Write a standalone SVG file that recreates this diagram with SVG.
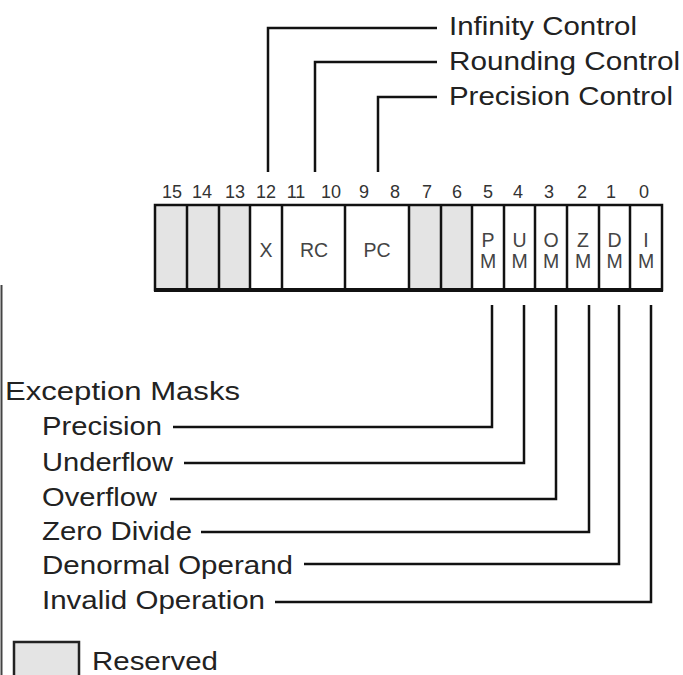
<svg xmlns="http://www.w3.org/2000/svg" width="683" height="675" viewBox="0 0 683 675">
<style>
.lbl{font-family:"Liberation Sans",Arial,sans-serif;font-size:26.5px;fill:#222}
.num{font-family:"Liberation Sans",Arial,sans-serif;font-size:18px;fill:#333;text-anchor:middle}
.cell{font-family:"Liberation Sans",Arial,sans-serif;font-size:19.5px;fill:#444;text-anchor:middle}
.res{fill:#e4e4e4}
.wht{fill:#fff}
.div{stroke:#111;stroke-width:2.5;fill:none}
.conn{stroke:#111;stroke-width:2.5;fill:none}
</style>
<rect width="683" height="675" fill="#fff"/>
<line x1="1.5" y1="285" x2="1.5" y2="675" stroke="#444" stroke-width="2"/>

<g id="register">
  <rect class="res" x="155" y="205" width="127" height="85"/>
  <rect class="wht" x="250" y="205" width="158" height="85"/>
  <rect class="res" x="408.5" y="205" width="63.4" height="85"/>
  <rect class="wht" x="472" y="205" width="190" height="85"/>
  <rect x="155" y="205" width="507" height="85" fill="none" stroke="#111" stroke-width="2.5"/>
  <line x1="154" y1="290" x2="663" y2="290" stroke="#111" stroke-width="4"/>
  <path class="div" d="M187 205V290M219 205V290M250 205V290M282 205V290M345 205V290M409 205V290M441 205V290M472 205V290M504 205V290M535 205V290M567 205V290M599 205V290M630 205V290"/>
</g>

<g id="bit-numbers">
  <text class="num" x="172" y="198">15</text>
  <text class="num" x="202" y="198">14</text>
  <text class="num" x="235" y="198">13</text>
  <text class="num" x="266" y="198">12</text>
  <text class="num" x="296" y="198">11</text>
  <text class="num" x="331" y="198">10</text>
  <text class="num" x="364" y="198">9</text>
  <text class="num" x="395" y="198">8</text>
  <text class="num" x="427" y="198">7</text>
  <text class="num" x="457" y="198">6</text>
  <text class="num" x="488" y="198">5</text>
  <text class="num" x="518" y="198">4</text>
  <text class="num" x="549" y="198">3</text>
  <text class="num" x="582" y="198">2</text>
  <text class="num" x="611" y="198">1</text>
  <text class="num" x="644" y="198">0</text>
</g>

<g id="field-X"><text class="cell" x="266" y="257">X</text></g>
<g id="field-RC"><text class="cell" x="314" y="257">RC</text></g>
<g id="field-PC"><text class="cell" x="377" y="257">PC</text></g>
<g id="field-PM"><text class="cell" x="488" y="247">P</text><text class="cell" x="488" y="268">M</text></g>
<g id="field-UM"><text class="cell" x="519.5" y="247">U</text><text class="cell" x="519.5" y="268">M</text></g>
<g id="field-OM"><text class="cell" x="551" y="247">O</text><text class="cell" x="551" y="268">M</text></g>
<g id="field-ZM"><text class="cell" x="583" y="247">Z</text><text class="cell" x="583" y="268">M</text></g>
<g id="field-DM"><text class="cell" x="614.5" y="247">D</text><text class="cell" x="614.5" y="268">M</text></g>
<g id="field-IM"><text class="cell" x="646" y="247">I</text><text class="cell" x="646" y="268">M</text></g>

<g id="connectors">
  <path class="conn" d="M437 28H268V172"/>
  <path class="conn" d="M437 62H315V172"/>
  <path class="conn" d="M437 97H378V172"/>
  <path class="conn" d="M492 305V427H173" stroke-width="2"/>
  <path class="conn" d="M524 305V463H184" stroke-width="2"/>
  <path class="conn" d="M556 305V499H170" stroke-width="2"/>
  <path class="conn" d="M589 305V532H201" stroke-width="2"/>
  <path class="conn" d="M619 305V564H304" stroke-width="2"/>
  <path class="conn" d="M651 305V602H275" stroke-width="2"/>
</g>

<g id="top-labels">
  <text class="lbl" x="449" y="35" textLength="188" lengthAdjust="spacingAndGlyphs">Infinity Control</text>
  <text class="lbl" x="449" y="70" textLength="231" lengthAdjust="spacingAndGlyphs">Rounding Control</text>
  <text class="lbl" x="449" y="105" textLength="224" lengthAdjust="spacingAndGlyphs">Precision Control</text>
</g>

<g id="exception-labels">
  <text class="lbl" x="5" y="400" textLength="235" lengthAdjust="spacingAndGlyphs">Exception Masks</text>
  <text class="lbl" x="42" y="435" textLength="120" lengthAdjust="spacingAndGlyphs">Precision</text>
  <text class="lbl" x="42" y="471" textLength="131" lengthAdjust="spacingAndGlyphs">Underflow</text>
  <text class="lbl" x="42" y="506" textLength="115" lengthAdjust="spacingAndGlyphs">Overflow</text>
  <text class="lbl" x="42" y="540" textLength="150" lengthAdjust="spacingAndGlyphs">Zero Divide</text>
  <text class="lbl" x="42" y="574" textLength="251" lengthAdjust="spacingAndGlyphs">Denormal Operand</text>
  <text class="lbl" x="42" y="609" textLength="223" lengthAdjust="spacingAndGlyphs">Invalid Operation</text>
</g>

<g id="legend">
  <rect x="14" y="642" width="65" height="40" fill="#e4e4e4" stroke="#222" stroke-width="2.5"/>
  <text class="lbl" x="92" y="670" textLength="126" lengthAdjust="spacingAndGlyphs">Reserved</text>
</g>
</svg>
